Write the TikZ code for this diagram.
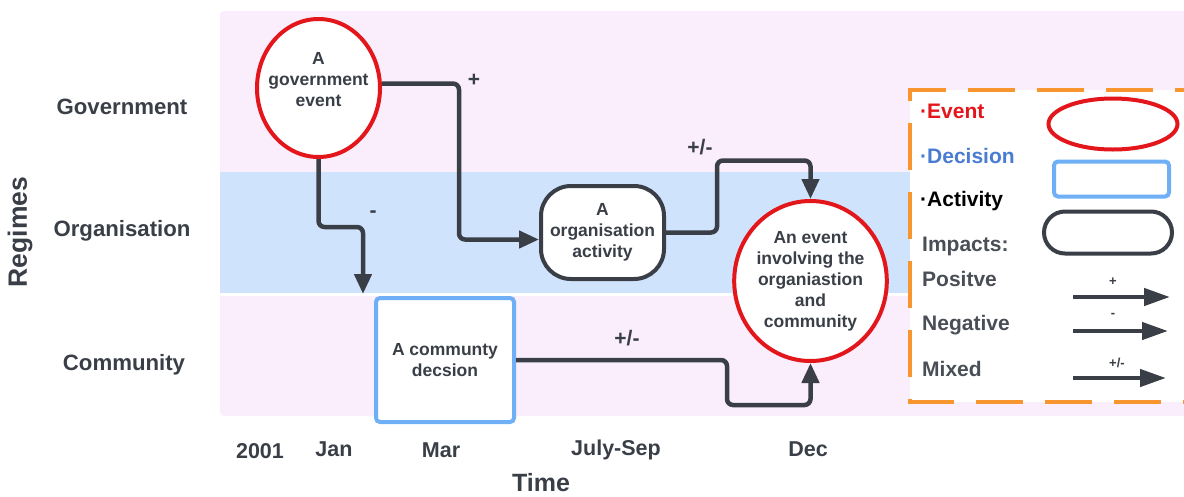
\documentclass[tikz,border=0pt]{standalone}
\usepackage{fontspec}
\setmainfont{Liberation Sans}
\usetikzlibrary{arrows.meta,shapes.geometric,calc}
\definecolor{pinkbg}{HTML}{FAEDFC}
\definecolor{bluebg}{HTML}{CFE4FC}
\definecolor{textc}{HTML}{3A3F47}
\definecolor{legtextc}{HTML}{4A4F57}
\definecolor{evred}{HTML}{E3161B}
\definecolor{decblue}{HTML}{6EAFF5}
\definecolor{dectext}{HTML}{4A7CD2}
\definecolor{legorange}{HTML}{F7962F}
\begin{document}
\begin{tikzpicture}[x=1pt,y=-1pt,
  every node/.style={font=\bfseries, text=textc},
  lane/.style={font=\bfseries\fontsize{22.2}{26}\selectfont, anchor=center},
  axis/.style={font=\bfseries\fontsize{21.5}{25}\selectfont, anchor=center},
  ntext/.style={font=\bfseries\fontsize{17.5}{21}\selectfont, align=center, inner sep=0pt},
  sign/.style={font=\bfseries\fontsize{21}{25}\selectfont},
  lsign/.style={font=\bfseries\fontsize{13}{15}\selectfont},
  evshape/.style={ellipse, draw=evred, line width=4pt, fill=white, inner sep=0pt},
  actshape/.style={rectangle, draw=textc, line width=4pt, fill=white, inner sep=0pt},
  decshape/.style={rectangle, draw=decblue, line width=4pt, fill=white, rounded corners=4pt, inner sep=0pt},
  conn/.style={draw=textc, line width=4.5pt, rounded corners=6pt, -{Triangle[length=20pt,width=17pt]}},
  legarrow/.style={draw=textc, line width=4.5pt, -{Triangle[length=26pt,width=17pt]}},
  legtext/.style={font=\bfseries\fontsize{21}{25}\selectfont, anchor=west, inner sep=0pt, text=legtextc}
]
\useasboundingbox (0,0) rectangle (1184,496);
% lanes
\fill[pinkbg, rounded corners=4pt] (220,11) rectangle (1200,416);
\fill[white] (220,293) rectangle (1200,295.5);
\fill[bluebg] (220,172) rectangle (912,293);
% legend box
\draw[legorange, line width=4pt, dash pattern=on 47pt off 22pt, dash phase=22pt, fill=white]
  (1200,90) -- (910,90) -- (910,402) -- (1200,402);

% lane labels
\node[lane] (lgov) at (122,107) {Government};
\node[lane] (lorg) at (122,231) {Organisation};
\node[lane] (lcom) at (124,365) {Community};
\node[font=\bfseries\fontsize{26.5}{30}\selectfont, rotate=90] (reg) at (20,232) {Regimes};

% axis labels
\node[axis] (a2001) at (260,451) {2001};
\node[axis] (ajan) at (334,449) {Jan};
\node[axis] (amar) at (441,450) {Mar};
\node[axis] (ajul) at (616,450) {July-Sep};
\node[axis] (adec) at (808,449) {Dec};
\node[font=\bfseries\fontsize{25}{29}\selectfont, inner sep=0pt] (time) at (541,483) {Time};

% nodes
\node[evshape, minimum width=123pt, minimum height=138pt] (gov) at (318.5,88) {};
\node[ntext] (govt) at (318.5,80) {A\\government\\event};
\node[actshape, rounded corners=30pt, minimum width=123pt, minimum height=93pt, ntext] (act) at (602.5,232.5) {A\\organisation\\activity};
\node[decshape, minimum width=138pt, minimum height=124pt, ntext] (dec) at (445,360) {A communty\\decsion};
\node[evshape, minimum width=139pt, minimum height=160pt, ntext] (evt) at (810.5,281) {An event\\involving the\\organiastion\\and\\community};
\coordinate (dfree) at (363,294);

% connectors
\draw[conn] (gov.4) -| (459,239.5) -- ([yshift=-7pt]act.west);
\draw[conn] (gov.south) |- (340,227) -| (dfree);
\draw[conn] (act.east) -| (717,160.5) -| (evt.north);
\draw[conn] (dec.east) -| (727,405) -| (evt.south);

\node[sign] (s1) at (474,80) {+};
\node[sign] (s2) at (373,214) {-};
\node[sign] (s3) at (700,147) {+/-};
\node[sign] (s4) at (627,338) {+/-};

% legend
\node[legtext, text=evred] (lev) at (920,111) {·Event};
\node[legtext, text=dectext] (ldec) at (920,156) {·Decision};
\node[legtext, text=black] (lact) at (920,201) {·Activity};
\node[legtext] (limp) at (922,246) {Impacts:};
\node[legtext] (lpos) at (922,279) {Positve};
\node[legtext] (lneg) at (922,325) {Negative};
\node[legtext] (lmix) at (922,369) {Mixed};

\node[evshape, minimum width=129pt, minimum height=51pt] (gev) at (1113,124) {};
\node[decshape, minimum width=115pt, minimum height=35pt] (gdec) at (1111.5,179) {};
\node[actshape, rounded corners=21pt, minimum width=128pt, minimum height=42pt] (gact) at (1108,232.5) {};

\coordinate (pa) at (1073,297);
\coordinate (pb) at (1170,297);
\coordinate (na) at (1073,331);
\coordinate (nb) at (1168,331);
\coordinate (ma) at (1073,378);
\coordinate (mb) at (1166,378);
\draw[legarrow] (pa) -- (pb);
\draw[legarrow] (na) -- (nb);
\draw[legarrow] (ma) -- (mb);
\node[lsign] (lp) at (1113,282) {+};
\node[lsign] (ln) at (1113,315) {-};
\node[lsign] (lm) at (1117,363) {+/-};
\end{tikzpicture}
\end{document}
